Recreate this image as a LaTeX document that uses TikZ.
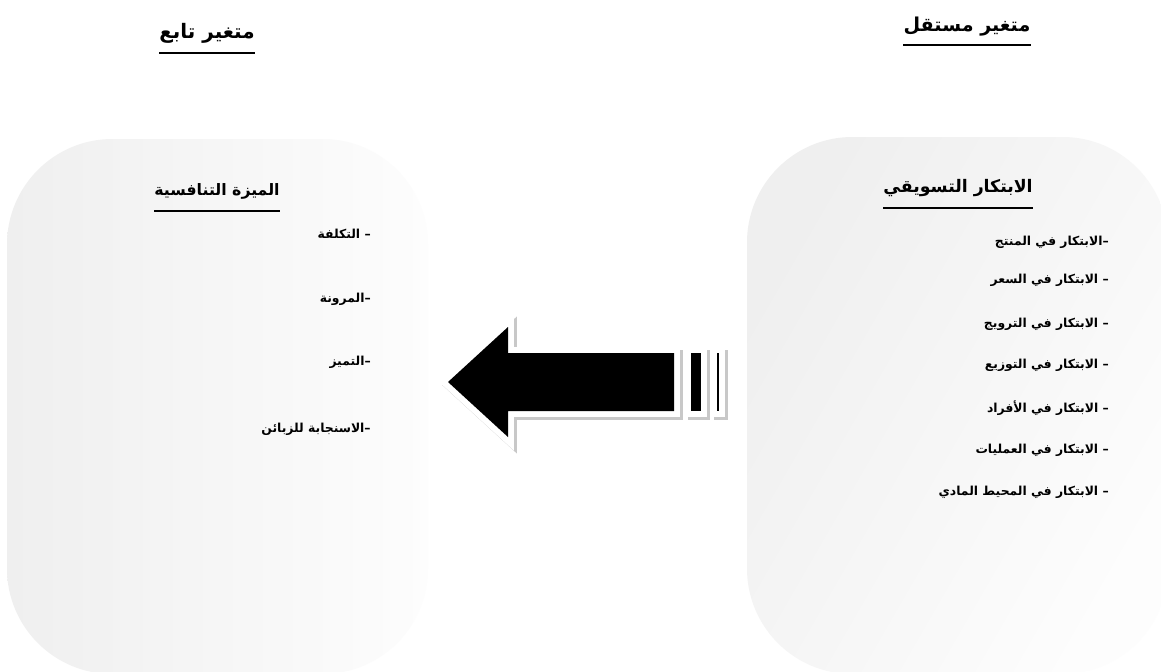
\documentclass[tikz,border=0pt]{standalone}
\usepackage{fontspec}
\newfontfamily\arabicfont[Script=Arabic]{DejaVu Sans}
\TeXXeTstate=1
\definecolor{boxA}{RGB}{239,239,239}
\definecolor{boxB}{RGB}{253,253,253}
\definecolor{shadowgray}{RGB}{200,200,200}
\begin{document}
\begin{tikzpicture}[x=0.025cm,y=-0.025cm,
  arsize/.style={font=\arabicfont\bfseries\fontsize{#1}{#1}\selectfont},
  toptitle/.style={inner sep=0pt, anchor=base},
  boxtitle/.style={inner sep=0pt, anchor=base},
  item/.style={arsize=8.8, inner sep=0pt, anchor=base east},
  uline/.style={line width=1.5pt},
  arrowshadow/.style={draw=shadowgray, line width=8.5pt, line join=miter},
  arrowrim/.style={draw=white, line width=8.5pt, line join=miter},
  arrowfill/.style={fill=black}]
\useasboundingbox (0,0) rectangle (1161,671);
\fill[white] (0,0) rectangle (1161,671);
\begin{scope}
\clip (0,0) rectangle (1161,671);
% boxes
\shade[left color=boxA, right color=boxB, rounded corners=75] (7,139) rectangle (428,674);
\shade[top color=boxA, bottom color=boxB, shading angle=60, rounded corners=75] (747,137) rectangle (1168,674);
\end{scope}

% titles
\node[toptitle, arsize=14.2] (dep) at (207,38) {\beginR متغير تابع\endR};
\draw[uline] (dep.west |- 0,53) -- (dep.east |- 0,53);
\node[toptitle, arsize=13.6] (ind) at (967,31) {\beginR متغير مستقل\endR};
\draw[uline] (ind.west |- 0,45) -- (ind.east |- 0,45);

% left box
\node[boxtitle, arsize=11.2] (lt) at (217,195) {\beginR الميزة التنافسية\endR};
\draw[uline] (lt.west |- 0,211) -- (lt.east |- 0,211);
\node[item] (l1) at (371,238) {\beginR – التكلفة\endR};
\node[item] (l2) at (371,302) {\beginR –المرونة\endR};
\node[item] (l3) at (371,365) {\beginR –التميز\endR};
\node[item] (l4) at (371,432) {\beginR –الاسنجابة للزبائن\endR};

% right box
\node[boxtitle, arsize=12.3] (rt) at (958,192) {\beginR الابتكار التسويقي\endR};
\draw[uline] (rt.west |- 0,208) -- (rt.east |- 0,208);
\node[item] (r1) at (1109,245) {\beginR –الابتكار في المنتج\endR};
\node[item] (r2) at (1109,283) {\beginR – الابتكار في السعر\endR};
\node[item] (r3) at (1109,327) {\beginR – الابتكار في الترويج\endR};
\node[item] (r4) at (1109,368) {\beginR – الابتكار في التوزيع\endR};
\node[item] (r5) at (1109,412) {\beginR – الابتكار في الأفراد\endR};
\node[item] (r6) at (1109,453) {\beginR – الابتكار في العمليات\endR};
\node[item] (r7) at (1109,495) {\beginR – الابتكار في المحيط المادي\endR};

% striped block arrow
\begin{scope}[shift={(3,3)}]
\path[arrowshadow] (448,382) -- (508,327) -- (508,353) -- (674,353) -- (674,411) -- (508,411) -- (508,437) -- cycle;
\path[arrowshadow] (691,353) rectangle (701,411);
\path[arrowshadow] (717,353) rectangle (719,411);
\end{scope}
\path[arrowrim] (448,382) -- (508,327) -- (508,353) -- (674,353) -- (674,411) -- (508,411) -- (508,437) -- cycle;
\path[arrowrim] (691,353) rectangle (701,411);
\path[arrowrim] (717,353) rectangle (719,411);
\path[arrowfill] (448,382) -- (508,327) -- (508,353) -- (674,353) -- (674,411) -- (508,411) -- (508,437) -- cycle;
\path[arrowfill] (691,353) rectangle (701,411);
\path[arrowfill] (717,353) rectangle (719,411);
\end{tikzpicture}
\end{document}
